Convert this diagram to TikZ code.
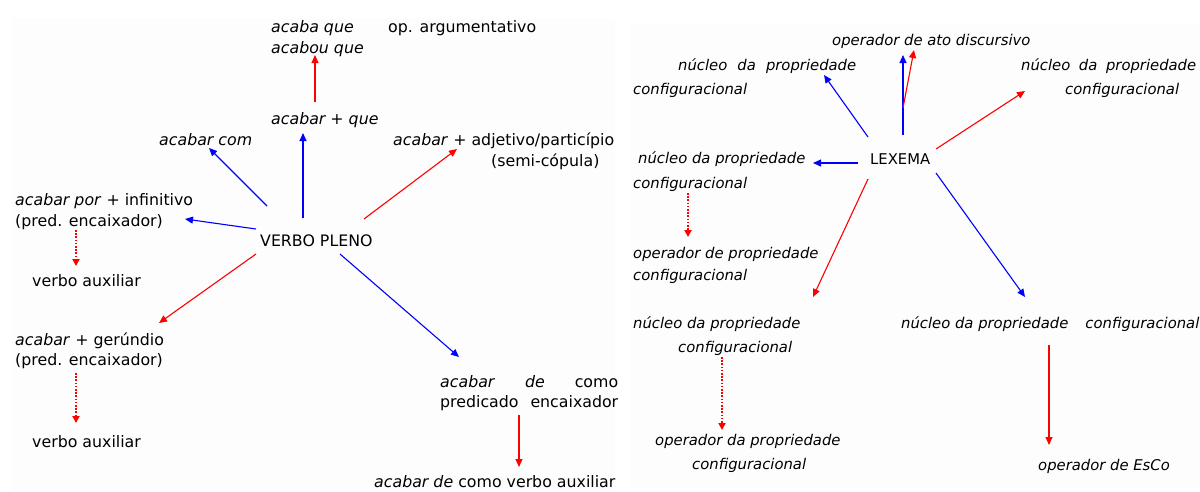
\documentclass[tikz,border=0pt]{standalone}
\usepackage{fontspec}
\setmainfont{DejaVu Sans}
\usetikzlibrary{arrows.meta}
\tikzset{
  lt/.style={anchor=base west, inner sep=0pt, font=\fontsize{15.8}{20}\selectfont},
  rt/.style={anchor=base west, inner sep=0pt, font=\fontsize{14.8}{20}\selectfont\itshape},
  barr/.style={draw=blue, line width=1.1pt, -{Triangle[length=8pt,width=7pt]}},
  rarr/.style={draw=red, line width=1.1pt, -{Triangle[length=8pt,width=7pt]}},
  rdot/.style={draw=red, line width=1.8pt, dash pattern=on 1.6pt off 1.6pt, -{Triangle[length=7pt,width=7pt]}},
  panel/.style={fill=black!0.8, draw=none}
}
\begin{document}
\begin{tikzpicture}[x=1pt,y=-1pt]
\useasboundingbox (0,0) rectangle (1200,491);
\fill[white] (0,0) rectangle (1200,491);
\path[panel] (12,18) rectangle (615,491);
\path[panel] (630,25) rectangle (1200,488);

% ---------- left panel ----------
\node[lt] (acaba)  at (271,32)  {\itshape acaba que};
\node[lt] (acabou) at (271,53)  {\itshape acabou que};
\node[lt] (oparg)  at (388,32)  {op. argumentativo};
\node[lt] (aque)   at (271,124) {\itshape acabar + que};
\node[lt] (acom)   at (159,145) {\itshape acabar com};
\node[lt] (aadj)   at (393,145) {\textit{acabar} + adjetivo/particípio};
\node[lt] (semi)   at (491,166) {(semi-cópula)};
\node[lt] (apor)   at (15,205)  {\textit{acabar por} + infinitivo};
\node[lt] (pred1)  at (15,226)  {(pred. encaixador)};
\node[lt] (vp)     at (260,246) {VERBO PLENO};
\node[lt] (aux1)   at (32,286)  {verbo auxiliar};
\node[lt] (ager)   at (15,345)  {\textit{acabar} + gerúndio};
\node[lt] (pred2)  at (15,365)  {(pred. encaixador)};
\node[lt] (aux2)   at (32,447)  {verbo auxiliar};
\node[lt] (ade1)   at (440,387) {\makebox[178pt][s]{\textit{acabar} \textit{de} como}};
\node[lt] (ade2)   at (440,407) {\makebox[178pt][s]{predicado encaixador}};
\node[lt] (adeaux) at (374,487) {\textit{acabar de} como verbo auxiliar};

\draw[rarr] ([shift={(44,-22)}]aque.base west) -- ([shift={(44,2)}]acabou.base west);
\draw[barr] ([shift={(43,-28)}]vp.base west) -- ([shift={(32,9)}]aque.base west);
\draw[barr] ([shift={(7,-40)}]vp.base west) -- ([shift={(50,3)}]acom.base west);
\draw[rarr] ([shift={(104,-27)}]vp.base west) -- ([shift={(64,4)}]aadj.base west);
\draw[barr] ([shift={(-4,-17)}]vp.base west) -- ([shift={(170,-7)}]pred1.base west);
\draw[rdot] ([shift={(61,4)}]pred1.base west) -- ([shift={(44,-20)}]aux1.base west);
\draw[rarr] ([shift={(-4,8)}]vp.base west) -- ([shift={(144,-22)}]ager.base west);
\draw[rdot] ([shift={(61,8)}]pred2.base west) -- ([shift={(44,-24)}]aux2.base west);
\draw[barr] ([shift={(80,8)}]vp.base west) -- ([shift={(19,-30)}]ade1.base west);
\draw[rarr] ([shift={(79,8)}]ade2.base west) -- ([shift={(145,-20)}]adeaux.base west);

% ---------- right panel ----------
\node[rt] (oad)  at (832,45)  {operador de ato discursivo};
\node[rt] (ul1)  at (678,70)  {\makebox[178pt][s]{núcleo da propriedade}};
\node[rt] (ul2)  at (633,94)  {configuracional};
\node[rt] (ur1)  at (1021,70) {\makebox[175pt][s]{núcleo da propriedade}};
\node[rt] (ur2)  at (1065,94) {configuracional};
\node[lt, font=\fontsize{14.8}{20}\selectfont] (lex) at (870,164) {LEXEMA};
\node[rt] (ml1)  at (638,163) {núcleo da propriedade};
\node[rt] (ml2)  at (633,188) {configuracional};
\node[rt] (opp1) at (633,258) {operador de propriedade};
\node[rt] (opp2) at (633,280) {configuracional};
\node[rt] (ll1)  at (633,328) {núcleo da propriedade};
\node[rt] (ll2)  at (678,352) {configuracional};
\node[rt] (opd1) at (655,445) {operador da propriedade};
\node[rt] (opd2) at (692,469) {configuracional};
\node[rt] (lr)   at (901,328) {núcleo da propriedade\hspace{17pt}configuracional};
\node[rt] (esco) at (1038,470) {operador de EsCo};

\draw[barr] ([shift={(33,-29)}]lex.base west) -- ([shift={(71,10)}]oad.base west);
\draw[rarr] ([shift={(33,-56)}]lex.base west) -- ([shift={(82,5)}]oad.base west);
\draw[barr] ([shift={(-2,-27)}]lex.base west) -- ([shift={(146,5)}]ul1.base west);
\draw[rarr] ([shift={(66,-15)}]lex.base west) -- ([shift={(-40,-3)}]ur2.base west);
\draw[barr] ([shift={(-12,-1)}]lex.base west) -- ([shift={(175,0)}]ml1.base west);
\draw[rdot] ([shift={(55,5)}]ml2.base west) -- ([shift={(55,-21)}]opp1.base west);
\draw[rarr] ([shift={(-2,15)}]lex.base west) -- ([shift={(180,-31)}]ll1.base west);
\draw[barr] ([shift={(66,9)}]lex.base west) -- ([shift={(124,-31)}]lr.base west);
\draw[rdot] ([shift={(44,5)}]ll2.base west) -- ([shift={(67,-15)}]opd1.base west);
\draw[rarr] ([shift={(148,17)}]lr.base west) -- ([shift={(11,-25)}]esco.base west);
\end{tikzpicture}
\end{document}
